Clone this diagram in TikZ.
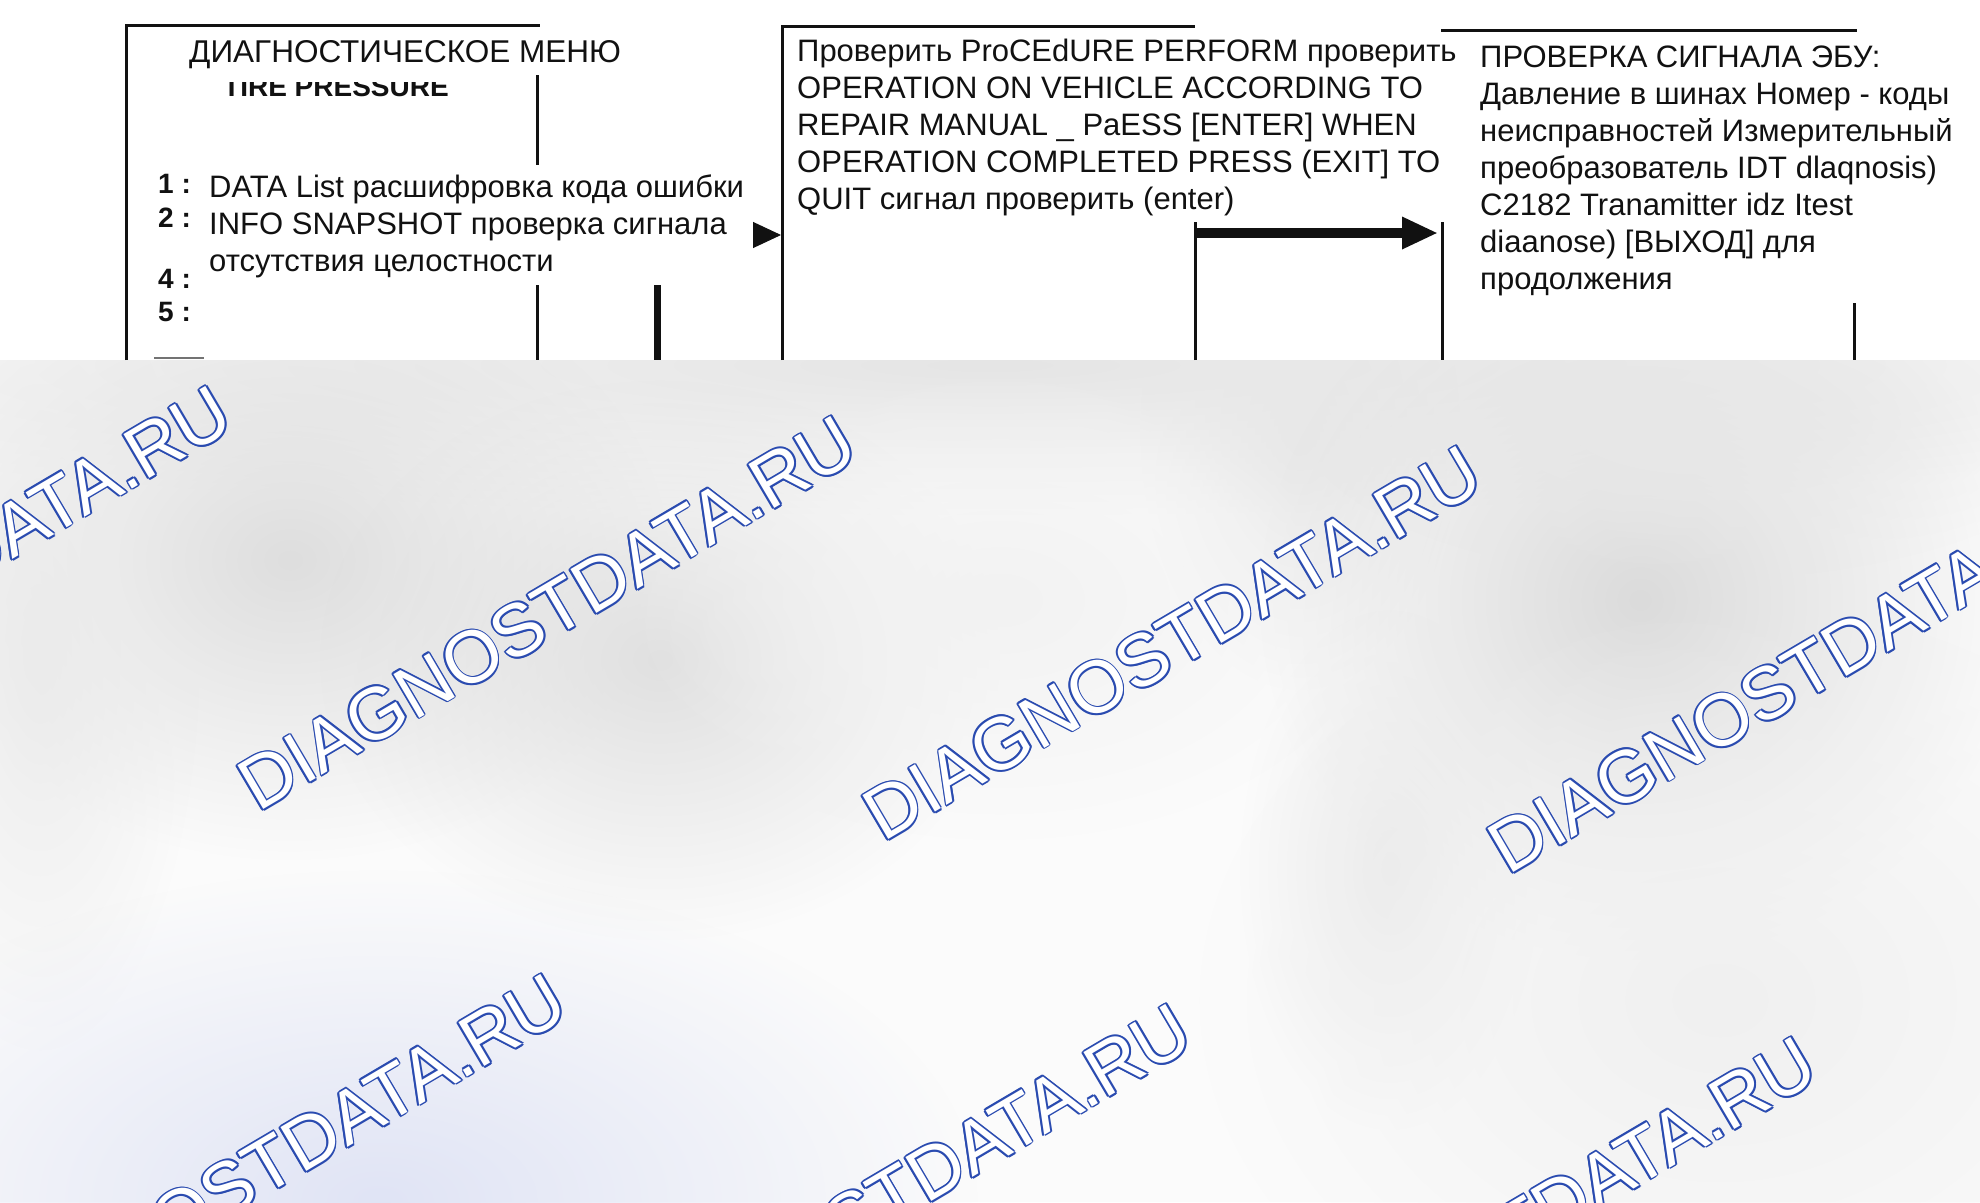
\documentclass[tikz,border=0pt]{standalone}
\usepackage{fontspec}
\setmainfont{Liberation Sans}
\usetikzlibrary{positioning, arrows.meta, fadings}
\definecolor{ink}{HTML}{111111}
\definecolor{wmblue}{HTML}{2A4BB0}
\definecolor{backdrop}{HTML}{FBFBFB}
\definecolor{bluehaze}{HTML}{E0E4F5}
\tikzfading[name=softblob, inner color=transparent!0, outer color=transparent!100]
\tikzset{
frame/.style={draw=ink, line width=3pt}, % thin rules of the screen frames
heavy/.style={draw=ink, line width=7pt}, % the heavy stub under the menu
screen/.style={anchor=base west, inner sep=0pt, align=left, text=ink, font=\fontsize{31}{37}\selectfont}, % screen texts, anchored at the last line
num/.style={anchor=base west, inner sep=0pt, text=ink, font=\fontsize{28}{34}\selectfont\bfseries}, % menu numbers
blob/.style={fill=#1, path fading=softblob}, % soft patches of the blurred backdrop
wm/.style={anchor=base west, inner sep=0pt, rotate=30.5, font=\fontsize{74}{74}\selectfont}, % watermark text
}
\newcommand{\wmark}[2]{% outlined watermark: base point, name
  \foreach \dx/\dy [count=\k] in {1.8/0,-1.8/0,0/1.8,0/-1.8,1.3/1.3,-1.3/1.3,1.3/-1.3,-1.3/-1.3}
    \node[wm, text=wmblue, xshift=\dx pt, yshift=\dy pt] (#2o\k) at #1 {DIAGNOSTDATA.RU};
  \node[wm, text=white] (#2) at #1 {DIAGNOSTDATA.RU};
}

\begin{document}
\begin{tikzpicture}[x=1pt, y=-1pt]
    \useasboundingbox (0,0) rectangle (1980,1202);

    % blurred backdrop under the screen copy
    \begin{scope}
    \clip (0,360) rectangle (1980,1202);
    \fill[backdrop] (0,360) rectangle (1980,1202);
    \fill[blob=black!10] (990,365) ellipse [x radius=1400, y radius=150];
    \fill[blob=black!9] (1300,430) ellipse [x radius=160, y radius=260];
    \fill[blob=black!13] (290,560) ellipse [x radius=380, y radius=300];
    \fill[blob=black!12] (660,660) ellipse [x radius=340, y radius=280];
    \fill[blob=black!8] (40,650) ellipse [x radius=160, y radius=400];
    \fill[blob=black!14] (1640,600) ellipse [x radius=380, y radius=360];
    \fill[blob=black!9] (1700,420) ellipse [x radius=400, y radius=160];
    \fill[blob=black!8] (1390,870) ellipse [x radius=150, y radius=260];
    \fill[blob=black!6] (1720,1000) ellipse [x radius=520, y radius=400];
    \fill[blob=black!5] (1000,600) ellipse [x radius=380, y radius=240];
    \fill[blob=bluehaze] (380,1200) ellipse [x radius=600, y radius=330];

    \wmark{(-367,783)}{wmA}
    \wmark{(258,813)}{wmB}
    \wmark{(883,843)}{wmC}
    \wmark{(1508,876)}{wmD}
    \wmark{(-32,1371)}{wmE}
    \wmark{(593,1401)}{wmF}
    \wmark{(1218,1434)}{wmG}
    \end{scope}

    % screen copy
    \fill[white] (0,0) rectangle (1980,360);

    \draw[frame] (126,360) -- (126,25) -- (540,25);
    \draw[frame] (537,75) -- (537,165);
    \draw[frame] (537,285) -- (537,360);
    \draw[heavy] (657,285) -- (657,360);
    \draw[frame] (782,360) -- (782,26) -- (1195,26);
    \draw[frame] (1195,360) -- (1195,222);
    \draw[frame] (1441,30) -- (1857,30);
    \draw[frame] (1442,222) -- (1442,360);
    \draw[frame] (1854,303) -- (1854,360);
    \draw[black!55, line width=2pt] (154,358) -- (204,358);

    \node[screen, font=\fontsize{31.5}{37}\selectfont] (menuhead) at (189,62) {ДИАГНОСТИЧЕСКОЕ МЕНЮ};
    \begin{scope}
    \clip (200,82) rectangle (470,110);
    \node[num] (tirepress) at (223,96) {TIRE PRESSURE};
    \end{scope}
    \node[num] (n1) at (158,193) {1 :};
    \node[num] (n2) at (158,227) {2 :};
    \node[num] (n4) at (158,288) {4 :};
    \node[num] (n5) at (158,321) {5 :};
    \node[screen] (menuitems) at (209,271) {DATA List расшифровка кода ошибки\\INFO SNAPSHOT проверка сигнала\\отсутствия целостности};

    \node[screen] (proctext) at (797,209) {Проверить ProCEdURE PERFORM проверить\\OPERATION ON VEHICLE ACCORDING TO\\REPAIR MANUAL \_ PaESS [ENTER] WHEN\\OPERATION COMPLETED PRESS (EXIT] TO\\QUIT сигнал проверить (enter)};

    \node[screen] (ecutext) at (1480,289) {ПРОВЕРКА СИГНАЛА ЭБУ:\\Давление в шинах Номер - коды\\неисправностей Измерительный\\преобразователь IDT dlaqnosis)\\C2182 Tranamitter idz Itest\\diaanose) [ВЫХОД] для\\продолжения};

    \coordinate (menuout) at (753,235);
    \coordinate (procin) at (781,235);
    \coordinate (procout) at (1195,233);
    \coordinate (ecuin) at (1438,233);

    \draw[ink, line width=1pt, -{Triangle[length=28pt, width=26pt]}] (menuout) -- (procin);
    \draw[ink, line width=10pt, -{Triangle[length=36pt, width=30pt]}] (procout) -- (ecuin);

\end{tikzpicture}
\end{document}
